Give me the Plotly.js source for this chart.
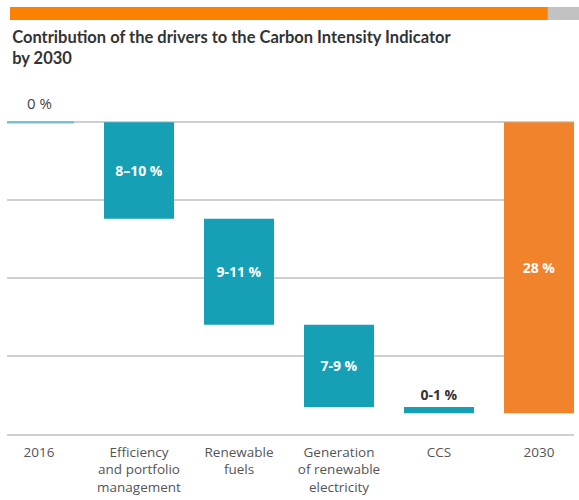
<!DOCTYPE html>
<html>
<head>
<meta charset="utf-8">
<script src="https://cdn.plot.ly/plotly-3.0.1.min.js"></script>
<style>html,body{margin:0;padding:0;background:#fff;}#chart{width:579px;height:500px;}</style>
</head>
<body>
<div id="chart"></div>
<script>
// Categories (tick labels) and contributions (% points of reduction)
var categories = ['2016', 'Efficiency<br>and portfolio<br>management', 'Renewable<br>fuels', 'Generation<br>of renewable<br>electricity', 'CCS', '2030'];
var contributions = [0, 9.3, 10.2, 7.9, 0.6];   // drivers reduce the indicator
var total2030 = 28;
var barLabels = ['0 %', '8\u201310 %', '9-11 %', '7-9 %', '0-1 %', '28 %'];

// Build waterfall bars: each bar spans from the running level down
var heights = [], bases = [], level = 0;
for (var i = 0; i < contributions.length; i++) {
  level -= contributions[i];
  heights.push(contributions[i]);
  bases.push(level);
}
heights.push(total2030);
bases.push(-total2030);

var teal = '#15a0b6', orange = '#f0832b';
var colors = ['#74c2cf', teal, teal, teal, teal, orange];
var textpos = ['none', 'inside', 'inside', 'inside', 'outside', 'inside'];
var textcol = ['#444', '#ffffff', '#ffffff', '#ffffff', '#333333', '#ffffff'];
var texts = barLabels.map(function (t, k) { return k === 0 ? '' : t; });

var trace = {
  type: 'bar',
  x: categories,
  y: heights,
  base: bases,
  marker: { color: colors, line: { width: 0 } },
  text: texts,
  textposition: textpos,
  insidetextanchor: 'middle',
  constraintext: 'none',
  textfont: { family: 'Open Sans, sans-serif', size: 14, weight: 700, color: textcol },
  outsidetextfont: { family: 'Open Sans, sans-serif', size: 14, weight: 700, color: '#333333' },
  hoverinfo: 'skip',
  cliponaxis: false
};

var layout = {
  width: 579, height: 500,
  margin: { l: 7, r: 5, t: 91, b: 66 },
  paper_bgcolor: '#ffffff', plot_bgcolor: '#ffffff',
  showlegend: false,
  bargap: 0.3,
  title: {
    text: 'Contribution of the drivers to the Carbon Intensity Indicator<br>by 2030',
    font: { family: 'Lato, sans-serif', size: 16.5, weight: 700, color: '#333333' },
    xref: 'container', x: 0.021, xanchor: 'left',
    yref: 'container', y: 0.915, yanchor: 'top'
  },
  xaxis: {
    type: 'category',
    range: [-0.32, 5.35],
    showgrid: false, zeroline: false,
    showline: true, linecolor: '#cfcfcf', linewidth: 1.5,
    ticks: '', ticklabelstandoff: 5,
    tickfont: { family: 'Open Sans, sans-serif', size: 13.5, color: '#555555' }
  },
  yaxis: {
    range: [-30, 3],
    tick0: 0, dtick: 7.5,
    showgrid: true, gridcolor: '#cfcfcf', gridwidth: 1.5,
    zeroline: false, showticklabels: false, ticks: '', showline: false
  },
  shapes: [
    { type: 'rect', xref: 'paper', yref: 'paper', x0: 0.0053, x1: 0.954, y0: 1.207, y1: 1.245,
      fillcolor: '#fb8200', line: { width: 0 }, layer: 'above' },
    { type: 'rect', xref: 'paper', yref: 'paper', x0: 0.954, x1: 1.01, y0: 1.207, y1: 1.245,
      fillcolor: '#c2c2c2', line: { width: 0 }, layer: 'above' },
    { type: 'line', xref: 'x', yref: 'y', x0: -0.35, x1: 0.35, y0: 0, y1: 0,
      line: { color: colors[0], width: 2.5 }, layer: 'above' }
  ],
  annotations: [
    { xref: 'x', yref: 'y', x: categories.indexOf('2016'), y: 0, yanchor: 'bottom', yshift: 7,
      text: barLabels[0], showarrow: false,
      font: { family: 'Open Sans, sans-serif', size: 15, color: '#444444' } }
  ]
};

Plotly.newPlot('chart', [trace], layout, { displayModeBar: false, staticPlot: true });
</script>
</body>
</html>
